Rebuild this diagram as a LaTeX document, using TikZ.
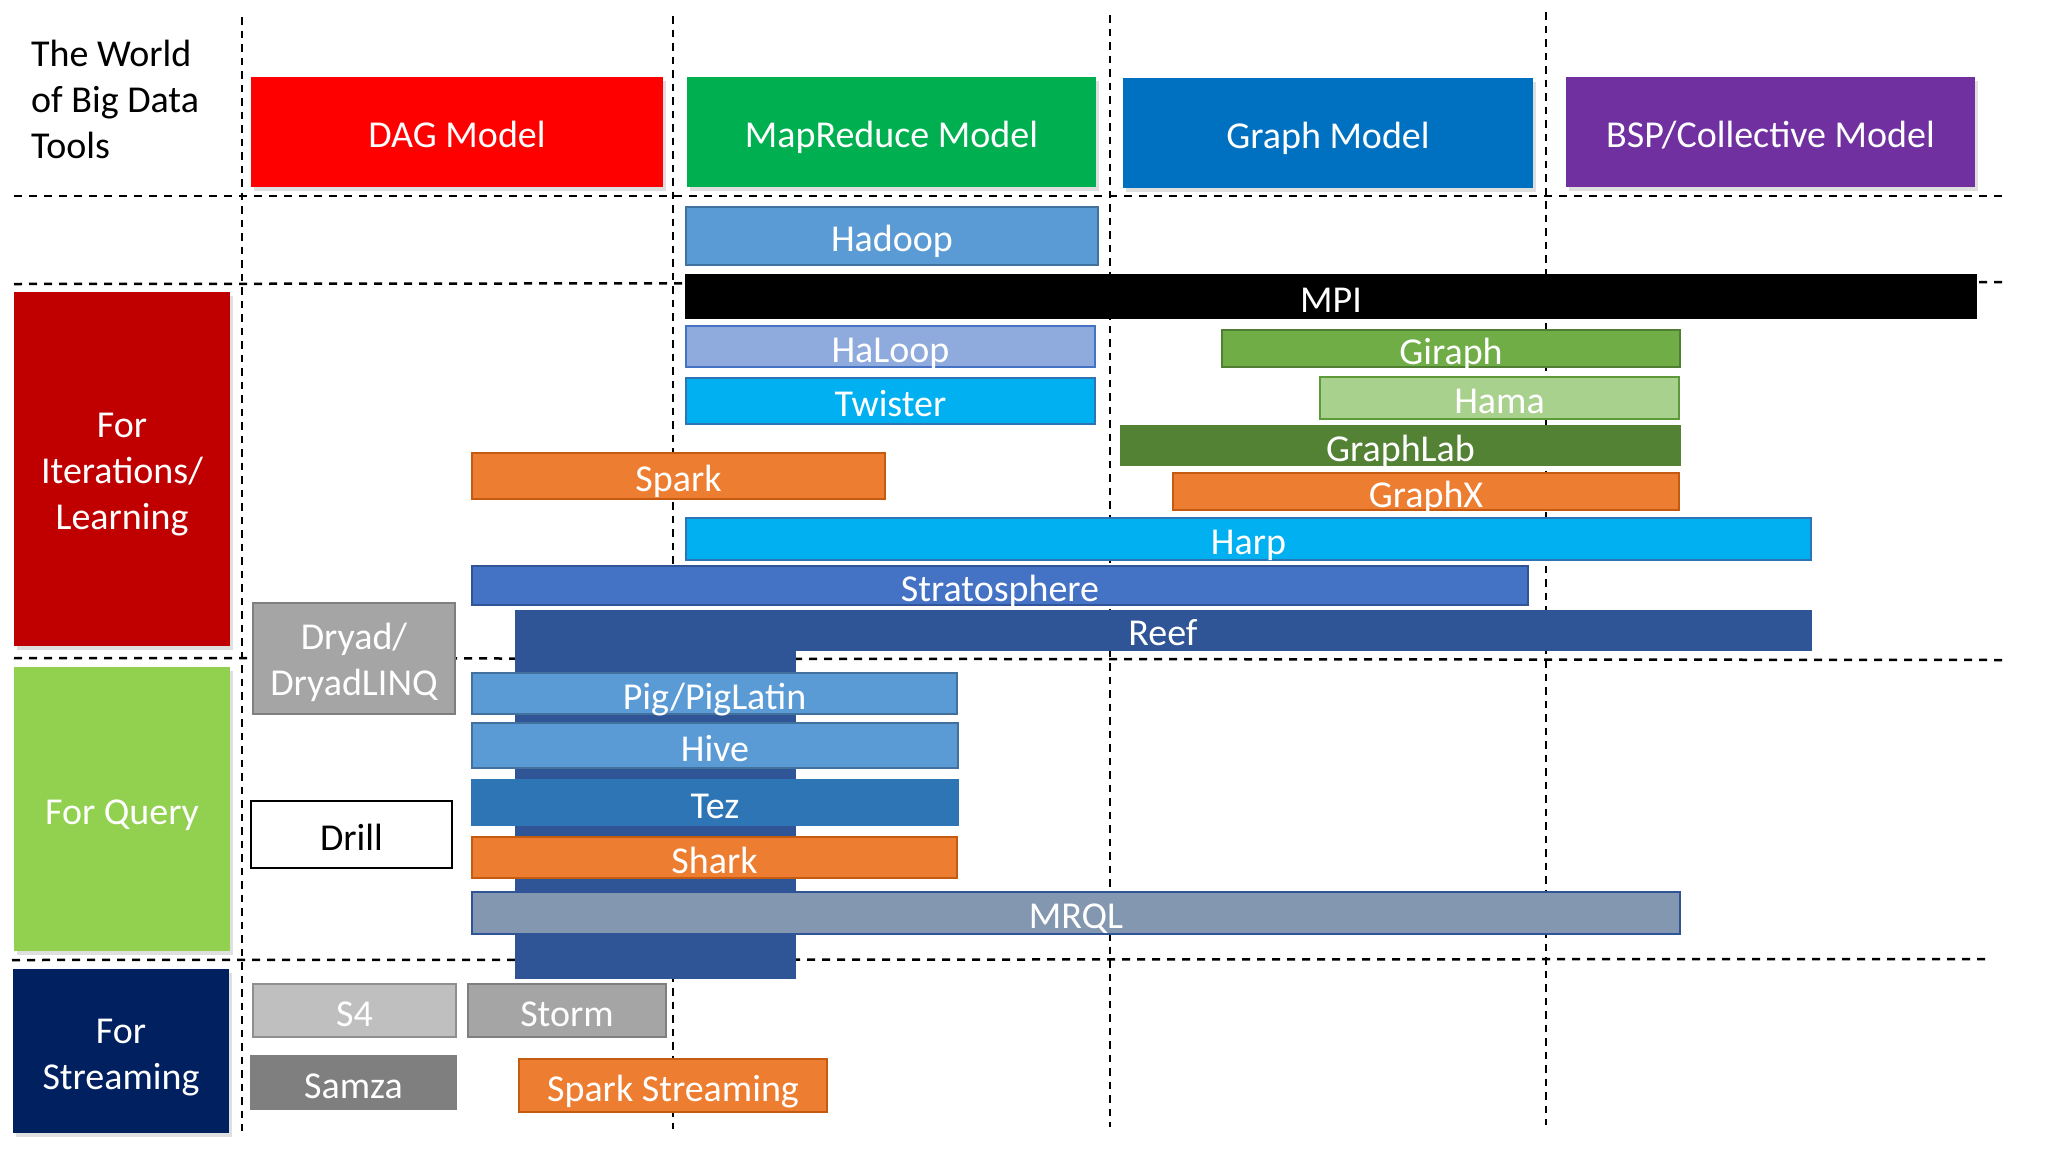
\documentclass[tikz,border=0pt]{standalone}
\usepackage{fontspec}
\setmainfont{Carlito}
\usetikzlibrary{shadows}
\definecolor{dagred}{HTML}{FF0000}
\definecolor{mrgreen}{HTML}{00B050}
\definecolor{graphblue}{HTML}{0070C0}
\definecolor{bsppurple}{HTML}{7030A0}
\definecolor{iterred}{HTML}{C00000}
\definecolor{querygreen}{HTML}{92D050}
\definecolor{streamnavy}{HTML}{002060}
\definecolor{midblue}{HTML}{5B9BD5}
\definecolor{midblueD}{HTML}{41719C}
\definecolor{lightblue}{HTML}{8FAADC}
\definecolor{lightblueD}{HTML}{4472C4}
\definecolor{cyanblue}{HTML}{00B0F0}
\definecolor{cyanblueD}{HTML}{2E75B6}
\definecolor{orange}{HTML}{ED7D31}
\definecolor{orangeD}{HTML}{C55A11}
\definecolor{gira}{HTML}{70AD47}
\definecolor{giraD}{HTML}{507E32}
\definecolor{hamag}{HTML}{A9D18E}
\definecolor{hamagD}{HTML}{5E9A3A}
\definecolor{glab}{HTML}{548235}
\definecolor{strat}{HTML}{4472C4}
\definecolor{reefc}{HTML}{2F5597}
\definecolor{tezc}{HTML}{2E75B6}
\definecolor{mrqlc}{HTML}{8497B0}
\definecolor{grayA}{HTML}{A5A5A5}
\definecolor{grayB}{HTML}{BFBFBF}
\definecolor{grayC}{HTML}{7F7F7F}
\definecolor{grayD}{HTML}{8F8F8F}
\newcommand\tbox[7]{%
  \pgfmathsetmacro\tbW{#5-#3}\pgfmathsetmacro\tbH{#6-#4}%
  \node[#2, minimum width=\tbW pt, minimum height=\tbH pt] (#1) at ({(#3+#5)/2},{(#4+#6)/2}) {#7};}
\begin{document}
\begin{tikzpicture}[x=1pt,y=-1pt,
  font=\fontsize{38}{46}\selectfont,
  hline/.style={line width=2.5pt, dash pattern=on 8pt off 7pt},
  vline/.style={line width=2pt, dash pattern=on 7.5pt off 6pt},
  base/.style={rectangle, inner sep=0pt, outer sep=0pt, text height=31pt, text depth=0pt},
  hdr/.style={base, fill=#1, text=white, drop shadow={opacity=0.25, shadow xshift=3pt, shadow yshift=-4pt}},
  cat/.style={rectangle, inner sep=0pt, outer sep=0pt, fill=#1, drop shadow={opacity=0.25, shadow xshift=3pt, shadow yshift=-4pt}},
  barbox/.style 2 args={base, fill=#1, draw=#2, line width=2pt, text=white},
  lbl/.style={inner sep=0pt, align=center, text=white}]
\useasboundingbox (0,0) rectangle (2048,1152);
\fill[white] (0,0) rectangle (2048,1152);
% grid of dashed lines
\coordinate (h1a) at (14,196); \coordinate (h1b) at (2003,196);
\coordinate (h2a) at (14,284); \coordinate (h2b) at (2003,282);
\coordinate (h3a) at (14,658); \coordinate (h3b) at (2003,660);
\coordinate (h4a) at (12,960); \coordinate (h4b) at (1990,959);
\coordinate (v1a) at (242,17); \coordinate (v1b) at (242,1131);
\coordinate (v2a) at (673,16); \coordinate (v2b) at (673,1129);
\coordinate (v3a) at (1109.5,15); \coordinate (v3b) at (1109.5,1127);
\coordinate (v4a) at (1545.5,12); \coordinate (v4b) at (1545.5,1125);
\draw[hline] (h1a) -- (h1b);
\draw[hline] (h2a) -- (h2b);
\draw[hline] (h3a) -- (h3b);
\draw[hline] (h4a) -- (h4b);
\draw[vline] (v1a) -- (v1b);
\draw[vline] (v2a) -- (v2b);
\draw[vline] (v3a) -- (v3b);
\draw[vline] (v4a) -- (v4b);
% title
\node[inner sep=0pt, align=left, anchor=north west] (title) at (31,40) {The World\\of Big Data\\Tools};
% headers
\tbox{dag}{hdr=dagred}{251}{77}{663}{187}{DAG Model}
\tbox{mapred}{hdr=mrgreen}{687}{77}{1096}{187}{MapReduce Model}
\tbox{graph}{hdr=graphblue}{1123}{78}{1533}{188}{Graph Model}
\tbox{bsp}{hdr=bsppurple}{1566}{77}{1975}{187}{BSP/Collective Model}
% categories
\tbox{iter}{cat=iterred}{14}{292}{230}{646}{}
\node[lbl, yshift=-6pt] (iterT) at (iter.center) {For\\Iterations/\\Learning};
\tbox{query}{cat=querygreen, base, text=white}{14}{667}{230}{951}{For Query}
\tbox{stream}{cat=streamnavy}{13}{969}{229}{1133}{}
\node[lbl, yshift=-6.5pt] (streamT) at (stream.center) {For\\Streaming};
% Reef (L-shaped)
\fill[reefc, draw=reefc, line width=1pt] (515,610) -- (1811,610) -- (1811,650) -- (795,650) -- (795,978) -- (515,978) -- cycle;
\node[base, text=white] (reef) at (1163,630) {Reef};
% bars
\tbox{hadoop}{barbox={midblue}{midblueD}}{686}{207}{1098}{265}{Hadoop}
\tbox{mpi}{barbox={black}{black}}{686}{275}{1976}{318}{MPI}
\tbox{haloop}{barbox={lightblue}{lightblueD}}{686}{326}{1095}{367}{HaLoop}
\tbox{twister}{barbox={cyanblue}{cyanblueD}}{686}{378}{1095}{424}{Twister}
\tbox{giraph}{barbox={gira}{giraD}}{1222}{330}{1680}{367}{Giraph}
\tbox{hama}{barbox={hamag}{hamagD}}{1320}{377}{1679}{419}{Hama}
\tbox{graphlab}{barbox={glab}{glab}}{1121}{426}{1680}{465}{GraphLab}
\tbox{spark}{barbox={orange}{orangeD}}{472}{453}{885}{499}{Spark}
\tbox{graphx}{barbox={orange}{orangeD}}{1173}{473}{1679}{510}{GraphX}
\tbox{harp}{barbox={cyanblue}{cyanblueD}}{686}{518}{1811}{560}{Harp}
\tbox{strato}{barbox={strat}{reefc}}{472}{566}{1528}{605}{Stratosphere}
\tbox{dryad}{barbox={grayA}{grayC}}{253}{603}{455}{714}{}
\node[lbl, yshift=-4pt] (dryadT) at (dryad.center) {Dryad/\\DryadLINQ};
\tbox{pig}{barbox={midblue}{midblueD}}{472}{673}{957}{714}{Pig/PigLatin}
\tbox{hive}{barbox={midblue}{midblueD}}{472}{723}{958}{768}{Hive}
\tbox{tez}{barbox={tezc}{tezc}}{472}{780}{958}{825}{Tez}
\tbox{shark}{barbox={orange}{orangeD}}{472}{837}{957}{878}{Shark}
\tbox{drill}{barbox={white}{black}, line width=2.5pt, text=black}{251}{801}{452}{868}{Drill}
\tbox{mrql}{barbox={mrqlc}{reefc}}{472}{892}{1680}{934}{MRQL}
\tbox{s4}{barbox={grayB}{grayD}}{253}{984}{456}{1037}{S4}
\tbox{storm}{barbox={grayA}{grayC}}{468}{984}{666}{1037}{Storm}
\tbox{samza}{barbox={grayC}{grayC}}{251}{1056}{456}{1109}{Samza}
\tbox{sparkst}{barbox={orange}{orangeD}}{519}{1059}{827}{1112}{Spark Streaming}
\end{tikzpicture}
\end{document}
